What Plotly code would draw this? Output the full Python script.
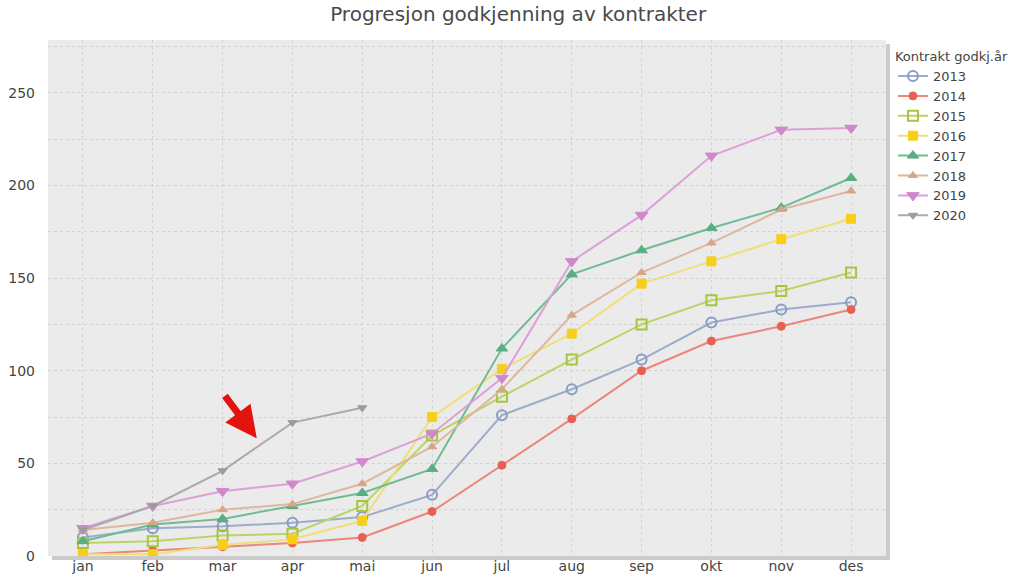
import plotly.graph_objects as go

months = ["jan", "feb", "mar", "apr", "mai", "jun", "jul", "aug", "sep", "okt", "nov", "des"]

y2013 = [10, 15, 16, 18, 21, 33, 76, 90, 106, 126, 133, 137]
y2014 = [1, 3, 5, 7, 10, 24, 49, 74, 100, 116, 124, 133]
y2015 = [7, 8, 11, 12, 27, 65, 86, 106, 125, 138, 143, 153]
y2016 = [1, 1, 6, 9, 19, 75, 101, 120, 147, 159, 171, 182]
y2017 = [8, 17, 20, 27, 34, 47, 112, 152, 165, 177, 188, 204]
y2018 = [14, 18, 25, 28, 39, 59, 90, 130, 153, 169, 187, 197]
y2019 = [15, 27, 35, 39, 51, 66, 96, 159, 184, 216, 230, 231]
y2020 = [14, 27, 46, 72, 80]

series = [
    ("2013", y2013, "#9cadca", "#8a9cc4", "circle-open", 10),
    ("2014", y2014, "#ec857c", "#e8614f", "circle", 8),
    ("2015", y2015, "#bcd466", "#a6c540", "square-open", 10),
    ("2016", y2016, "#efdf7c", "#f7cf1a", "square", 9),
    ("2017", y2017, "#70bb93", "#5aae82", "triangle-up", 10),
    ("2018", y2018, "#ddb7a0", "#d8a588", "triangle-up", 8),
    ("2019", y2019, "#dca0d9", "#d088cc", "triangle-down", 11),
    ("2020", y2020, "#aaaaaa", "#9c9c9c", "triangle-down", 8),
]

FONT = "DejaVu Sans, Verdana, sans-serif"

fig = go.Figure()
for name, ys, lc, mc, sym, ms in series:
    open_sym = sym.endswith("-open")
    fig.add_trace(go.Scatter(
        x=months[:len(ys)], y=ys, name=name, mode="lines+markers",
        line=dict(color=lc, width=2),
        marker=dict(symbol=sym, size=ms, color=mc,
                    line=dict(color=mc, width=2 if open_sym else 1)),
    ))

# plot-area background with shadow
W, H = 838, 516
fig.add_shape(type="rect", xref="paper", yref="paper", layer="below",
              x0=4 / W, x1=1 + 4 / W, y0=-4 / H, y1=1 - 4 / H,
              fillcolor="#cbcbcb", line=dict(width=0))
fig.add_shape(type="rect", xref="paper", yref="paper", layer="below",
              x0=0, x1=1, y0=0, y1=1,
              fillcolor="#ebebeb", line=dict(width=0))

fig.add_annotation(x=2.49, y=63.5, xref="x", yref="y", ax=-33, ay=-44,
                   showarrow=True, arrowhead=2, arrowsize=0.9, arrowwidth=7,
                   arrowcolor="#e3140f", text="")

grid = "#d3d3d3"
fig.update_layout(
    template="none",
    width=1024, height=577,
    margin=dict(l=48, r=138, t=40, b=21),
    paper_bgcolor="white",
    plot_bgcolor="rgba(0,0,0,0)",
    font=dict(family=FONT, size=13, color="#444444"),
    title=dict(text="Progresjon godkjenning av kontrakter", x=0.506, xanchor="center",
               y=1 - 14 / 577, yanchor="middle",
               font=dict(family=FONT, size=20, color="#4a4a4a")),
    xaxis=dict(type="category", range=[-0.5, 11.5], showgrid=True,
               gridcolor=grid, griddash="3px,3px", gridwidth=1,
               showline=False, zeroline=False, ticks="", automargin=False,
               tickfont=dict(family=FONT, size=14, color="#444444")),
    yaxis=dict(range=[0, 278.5], dtick=50, showgrid=True, gridcolor=grid,
               griddash="3px,3px", gridwidth=1, zeroline=False, showline=False,
               ticks="", automargin=False, ticklabelstandoff=12,
               minor=dict(dtick=25, showgrid=True, gridcolor=grid, griddash="3px,3px"),
               tickfont=dict(family=FONT, size=14, color="#444444")),
    legend=dict(x=1.0083, y=0.992, xanchor="left", yanchor="top",
                title=dict(text="Kontrakt godkj.år", font=dict(family=FONT, size=13, color="#444444")),
                font=dict(family=FONT, size=13, color="#444444"), bgcolor="rgba(0,0,0,0)",
                itemwidth=30, tracegroupgap=0),
    showlegend=True,
)

fig.write_html("out.html")
